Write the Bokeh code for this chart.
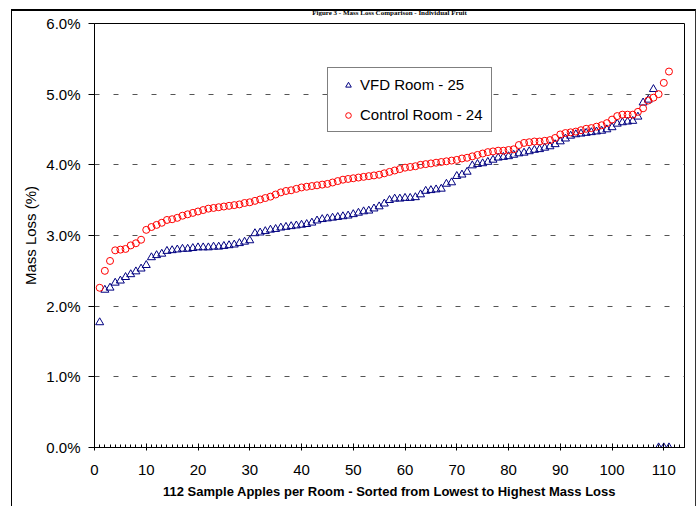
from bokeh.plotting import figure
from bokeh.models import Range1d, FixedTicker, PrintfTickFormatter, InlineStyleSheet
from bokeh.embed import file_html
from bokeh.resources import INLINE

title_text = "Figure 3 - Mass Loss Comparison - Individual Fruit"
x_label = "112 Sample Apples per Room - Sorted from Lowest to Highest Mass Loss"
y_label = "Mass Loss (%)"
vfd_name = "VFD Room - 25"
ctrl_name = "Control Room - 24"
x_ticks = list(range(0, 111, 10))
y_ticks = [0, 1, 2, 3, 4, 5, 6]

vfd = [
    1.77, 2.23, 2.26, 2.33, 2.36, 2.41, 2.45, 2.49, 2.53, 2.58,
    2.69, 2.72, 2.74, 2.78, 2.79, 2.80, 2.81, 2.81, 2.82, 2.83,
    2.83, 2.83, 2.84, 2.84, 2.85, 2.86, 2.87, 2.89, 2.91, 2.93,
    3.03, 3.04, 3.06, 3.08, 3.09, 3.11, 3.12, 3.13, 3.14, 3.15,
    3.16, 3.18, 3.21, 3.23, 3.24, 3.25, 3.26, 3.27, 3.28, 3.30,
    3.32, 3.34, 3.35, 3.38, 3.41, 3.45, 3.50, 3.52, 3.52, 3.53,
    3.53, 3.54, 3.58, 3.63, 3.64, 3.65, 3.66, 3.73, 3.75, 3.84,
    3.86, 3.90, 3.99, 4.01, 4.02, 4.04, 4.07, 4.10, 4.11, 4.12,
    4.14, 4.16, 4.17, 4.19, 4.21, 4.22, 4.24, 4.26, 4.29, 4.33,
    4.37, 4.41, 4.43, 4.44, 4.45, 4.46, 4.47, 4.48, 4.50, 4.53,
    4.58, 4.60, 4.61, 4.62, 4.68, 4.88, 4.92, 5.07, 0.0, 0.0, 0.0,
]
ctrl = [
    2.26, 2.50, 2.64, 2.79, 2.80, 2.81, 2.86, 2.89, 2.94, 3.08,
    3.12, 3.15, 3.18, 3.22, 3.23, 3.25, 3.28, 3.30, 3.32, 3.34,
    3.36, 3.38, 3.39, 3.40, 3.41, 3.42, 3.43, 3.44, 3.46, 3.47,
    3.49, 3.51, 3.53, 3.55, 3.58, 3.61, 3.63, 3.64, 3.66, 3.68,
    3.69, 3.70, 3.71, 3.72, 3.73, 3.75, 3.77, 3.79, 3.80, 3.81,
    3.82, 3.83, 3.84, 3.85, 3.86, 3.88, 3.90, 3.92, 3.94, 3.96,
    3.97, 3.98, 4.00, 4.01, 4.02, 4.03, 4.04, 4.05, 4.06, 4.07,
    4.09, 4.10, 4.12, 4.14, 4.16, 4.18, 4.19, 4.20, 4.20, 4.21,
    4.22, 4.28, 4.31, 4.32, 4.33, 4.33, 4.34, 4.35, 4.38, 4.43,
    4.45, 4.46, 4.47, 4.49, 4.51, 4.52, 4.54, 4.56, 4.59, 4.64,
    4.69, 4.71, 4.71, 4.71, 4.75, 4.80, 4.91, 4.95, 5.00, 5.16, 5.32,
]
sample = list(range(1, len(vfd) + 1))

# layout (pixels)
W, H = 699, 506
FL, FR, FT, FB = 94, 684, 22, 447
X0, X1, Y0, Y1 = 0, 114, 0, 6

FONT = "Liberation Sans"

p = figure(width=W, height=H, x_range=Range1d(X0, X1), y_range=Range1d(Y0, Y1),
           output_backend="svg", toolbar_location=None,
           min_border_left=FL, min_border_right=W - FR,
           min_border_top=FT, min_border_bottom=H - FB)
p.background_fill_color = "white"
p.border_fill_color = "white"
p.outline_line_color = "black"
p.outline_line_width = 1

# title in the thin strip above the chart box
p.title.text = title_text
p.title.align = "center"
p.title.text_font = "Liberation Serif"
p.title.text_font_style = "bold"
p.title.text_font_size = "7px"
p.title.text_color = "black"
p.title.standoff = 13

# outer chart box (page decoration)
box_css = InlineStyleSheet(css="""
:host { position: relative; }
:host::after {
  content: "";
  position: absolute;
  left: 11px; top: 9px; width: 683px; height: 510px;
  border-top: 2px solid #000;
  border-left: 1.5px solid #000;
  border-right: 1.5px solid #333;
  pointer-events: none;
  z-index: 10;
}
""")
p.stylesheets = [box_css]

p.scatter(sample, vfd, marker="triangle", size=8, line_color="#000080", fill_color=None,
          line_width=1, legend_label=vfd_name)
p.scatter(sample, ctrl, marker="circle", size=7, line_color="#ff0000", fill_color=None,
          line_width=1, legend_label=ctrl_name)

# axes
p.xaxis.ticker = FixedTicker(ticks=x_ticks, minor_ticks=list(range(0, 115)))
p.yaxis.ticker = FixedTicker(ticks=y_ticks, minor_ticks=[])
p.yaxis.formatter = PrintfTickFormatter(format="%.1f%%")
for ax in (p.xaxis[0], p.yaxis[0]):
    ax.axis_line_color = "black"
    ax.major_tick_line_color = "black"
    ax.minor_tick_line_color = "black"
    ax.major_label_text_font = FONT
    ax.major_label_text_font_size = "15px"
    ax.major_label_text_color = "black"
    ax.axis_label_text_color = "black"
p.xaxis.major_tick_in = 4
p.xaxis.major_tick_out = 3
p.xaxis.minor_tick_in = 3
p.xaxis.minor_tick_out = 0
p.xaxis.major_label_standoff = 14
p.xaxis.axis_label = x_label
p.xaxis.axis_label_text_font = FONT
p.xaxis.axis_label_text_font_style = "bold"
p.xaxis.axis_label_text_font_size = "13px"
p.xaxis.axis_label_standoff = 6

p.yaxis.major_tick_in = 0
p.yaxis.major_tick_out = 6
p.yaxis.major_label_standoff = 8
p.yaxis.axis_label = y_label
p.yaxis.axis_label_text_font = FONT
p.yaxis.axis_label_text_font_style = "normal"
p.yaxis.axis_label_text_font_size = "15px"
p.yaxis.axis_label_standoff = 4

p.xgrid.grid_line_color = None
p.ygrid.grid_line_color = "#555555"
p.ygrid.grid_line_dash = "5 14"
p.ygrid.grid_line_width = 1

# legend
lg = p.legend[0]
lg.location = (233, 315)
lg.margin = 0
lg.padding = 8
lg.spacing = 13
lg.glyph_width = 24
lg.glyph_height = 14
lg.label_height = 14
lg.label_standoff = 0
lg.label_text_font = FONT
lg.label_text_font_size = "15px"
lg.label_text_color = "black"
lg.border_line_color = "black"
lg.border_line_width = 1
lg.background_fill_color = "white"
lg.background_fill_alpha = 1

open("out.html", "w").write(file_html(p, INLINE))
